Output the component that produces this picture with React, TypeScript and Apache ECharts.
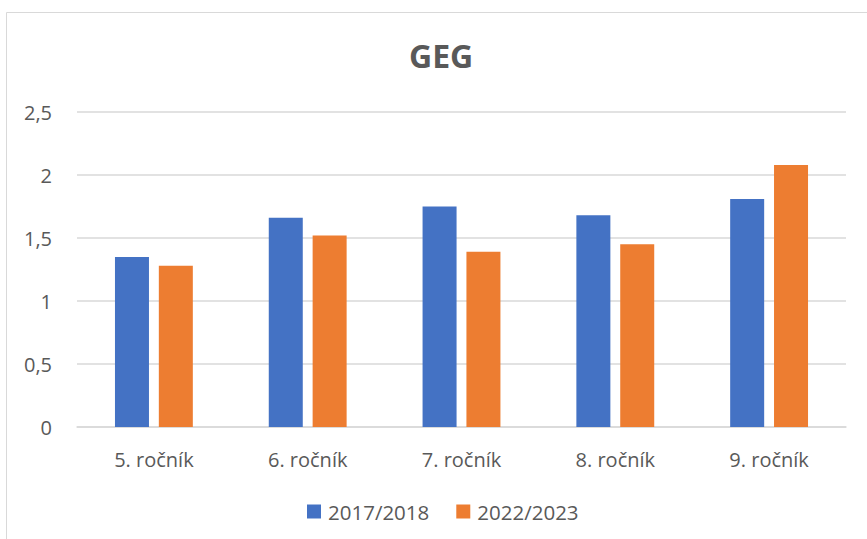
import React, { useEffect, useRef } from "react";
import * as echarts from "echarts";

const categories = ["5. ročník", "6. ročník", "7. ročník", "8. ročník", "9. ročník"];
const seriesNames = ["2017/2018", "2022/2023"];
const values2017 = [1.35, 1.66, 1.75, 1.68, 1.81];
const values2022 = [1.28, 1.52, 1.39, 1.45, 2.08];
const colors = ["#4472C4", "#ED7D31"];

const FONT = "'Open Sans', 'Noto Sans', sans-serif";

export default function App() {
  const ref = useRef<HTMLDivElement>(null);
  useEffect(() => {
    if (!ref.current) return;
    const chart = echarts.init(ref.current, undefined, { renderer: "svg" });
    chart.setOption({
      animation: false,
      backgroundColor: "#ffffff",
      title: {
        text: "GEG",
        left: 409,
        top: 39,
        padding: 0,
        textStyle: { fontFamily: FONT, fontSize: 32, fontWeight: "bold", color: "#595959" },
      },
      graphic: [
        {
          type: "rect",
          shape: { x: 6.5, y: 12.5, width: 900, height: 600 },
          style: { fill: "none", stroke: "#d9d9d9", lineWidth: 1 },
          silent: true,
          z: -1,
        },
      ],
      legend: {
        top: 501,
        left: 307,
        padding: 0,
        itemWidth: 14,
        itemHeight: 14,
        itemGap: 27,
        icon: "rect",
        textStyle: { fontFamily: FONT, fontSize: 20.5, color: "#595959", padding: [0, 0, 0, 2] },
        data: seriesNames,
      },
      grid: { left: 77, right: 21, top: 112, bottom: 112, containLabel: false },
      xAxis: {
        type: "category",
        data: categories,
        axisLine: { lineStyle: { color: "#d9d9d9", width: 1.5 } },
        axisTick: { show: false },
        axisLabel: { fontFamily: FONT, fontSize: 20, color: "#595959", margin: 22 },
      },
      yAxis: {
        type: "value",
        min: 0,
        max: 2.5,
        interval: 0.5,
        axisLine: { show: false },
        axisTick: { show: false },
        splitLine: { lineStyle: { color: "#d9d9d9", width: 1.5 } },
        axisLabel: {
          fontFamily: FONT,
          fontSize: 20,
          color: "#595959",
          margin: 25,
          formatter: (v: number) => String(v).replace(".", ","),
        },
      },
      series: [
        {
          name: seriesNames[0],
          type: "bar",
          data: values2017,
          itemStyle: { color: colors[0] },
          barWidth: 34,
          barGap: "29%",
        },
        {
          name: seriesNames[1],
          type: "bar",
          data: values2022,
          itemStyle: { color: colors[1] },
          barWidth: 34,
          barGap: "29%",
        },
      ],
    });
    return () => chart.dispose();
  }, []);
  return (
    <div
      ref={ref}
      style={{ position: "fixed", left: 0, top: 0, width: 867, height: 539 }}
    />
  );
}
